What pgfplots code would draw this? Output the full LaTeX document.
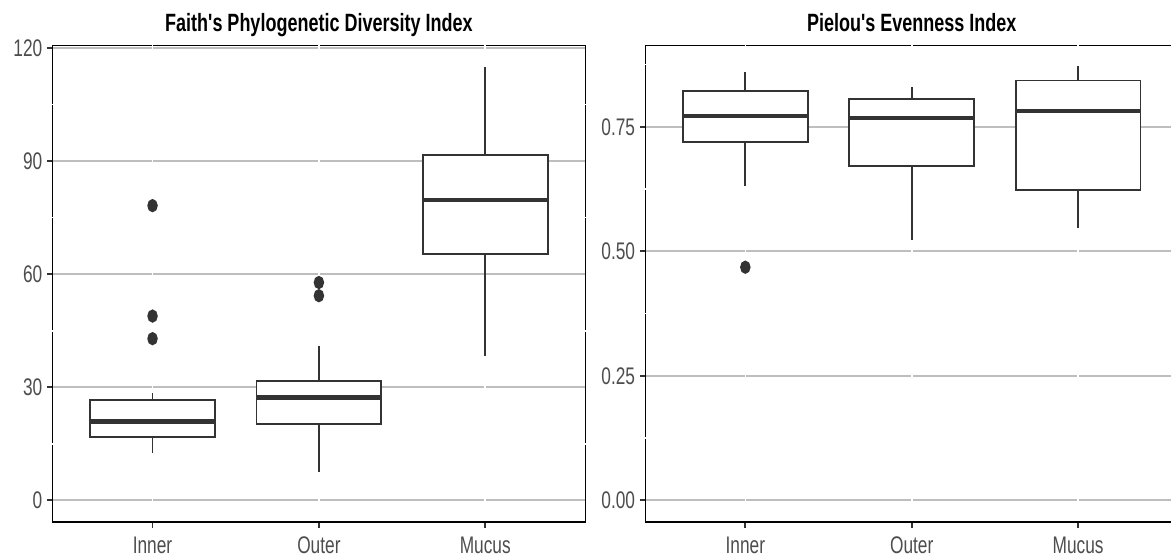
\documentclass[border=0pt]{standalone}
\usepackage{fontspec}
\setmainfont{Liberation Sans}[FakeStretch=0.72, Ligatures=TeXOff]
\usepackage{pgfplots}
\pgfplotsset{compat=1.18}
\usepgfplotslibrary{statistics}
\definecolor{g20}{HTML}{333333}
\definecolor{g30}{HTML}{4D4D4D}
\definecolor{gridc}{HTML}{BEBEBE}
\pgfplotsset{
  myaxis/.style={
    scale only axis, width=266.2pt, height=238.35pt,
    anchor=south west, clip=false,
    xmin=0.4, xmax=3.6,
    axis line style={black, line width=0.55pt},
    xtick={1,2,3}, xticklabels={Inner,Outer,Mucus},
    tick pos=left, tick align=outside, major tick length=2.8pt,
    minor tick num=0,
    tick style={g20, line width=0.9pt},
    ymajorgrids, grid style={gridc, line width=0.85pt},
    /pgf/number format/assume math mode=true,
    ticklabel style={font=\fontsize{12}{14}\selectfont, text=g30},
    xticklabel style={text height=8.8pt, text depth=0pt, yshift=-0.7pt},
    yticklabel style={inner sep=2.2pt},
    title style={font=\bfseries\fontsize{12.5}{15}\selectfont, text=black, at={(0.5,1)}, anchor=base, yshift=0.8pt},
    boxplot/draw direction=y,
    boxplot/box extend=0.75,
    boxplot/whisker extend=0,
    boxplot/every median/.style={line width=2.1pt},
  },
  bx/.style={draw=g20, fill=white, line width=0.9pt, solid,
    mark=*, mark size=2.85pt, mark options={fill=g20, draw=none, xscale=0.76}},
  wl/.style={white, line width=0.8pt, line cap=rect, forget plot},
}
\begin{document}
\begin{tikzpicture}
\begin{axis}[myaxis, at={(26.35pt,17pt)},
  title={Faith's Phylogenetic Diversity Index},
  ymin=-5.75, ymax=120.75, ytick={0,30,60,90,120}]
\addplot[wl] coordinates {(1,-5.75) (1,120.75)};
\addplot[wl] coordinates {(2,-5.75) (2,120.75)};
\addplot[wl] coordinates {(3,-5.75) (3,120.75)};
\addplot[wl] coordinates {(0.4,15) (3.6,15)};
\addplot[wl] coordinates {(0.4,45) (3.6,45)};
\addplot[wl] coordinates {(0.4,75) (3.6,75)};
\addplot[wl] coordinates {(0.4,105) (3.6,105)};
\addplot[bx, boxplot prepared={draw position=1, median=20.9, upper quartile=26.6, lower quartile=16.8, upper whisker=28.4, lower whisker=12.5}]
  coordinates {(1,78.2) (1,48.9) (1,42.9)};
\addplot[bx, boxplot prepared={draw position=2, median=27.3, upper quartile=31.6, lower quartile=20.2, upper whisker=41.0, lower whisker=7.4}]
  coordinates {(2,57.8) (2,54.3)};
\addplot[bx, boxplot prepared={draw position=3, median=79.7, upper quartile=91.7, lower quartile=65.4, upper whisker=115.0, lower whisker=38.4}]
  coordinates {};
\addplot[black, line width=0.9pt, forget plot] coordinates {(0.4,-5.75) (3.6,-5.75)};
\end{axis}
\begin{axis}[myaxis, at={(322.75pt,17pt)},
  title={Pielou's Evenness Index},
  ymin=-0.0435, ymax=0.9135, ytick={0,0.25,0.5,0.75},
  yticklabel style={/pgf/number format/.cd, fixed, fixed zerofill, precision=2}]
\addplot[wl] coordinates {(1,-0.0435) (1,0.9135)};
\addplot[wl] coordinates {(2,-0.0435) (2,0.9135)};
\addplot[wl] coordinates {(3,-0.0435) (3,0.9135)};
\addplot[wl] coordinates {(0.4,0.125) (3.6,0.125)};
\addplot[wl] coordinates {(0.4,0.375) (3.6,0.375)};
\addplot[wl] coordinates {(0.4,0.625) (3.6,0.625)};
\addplot[wl] coordinates {(0.4,0.875) (3.6,0.875)};
\addplot[bx, boxplot prepared={draw position=1, median=0.772, upper quartile=0.822, lower quartile=0.720, upper whisker=0.860, lower whisker=0.631}]
  coordinates {(1,0.468)};
\addplot[bx, boxplot prepared={draw position=2, median=0.767, upper quartile=0.806, lower quartile=0.671, upper whisker=0.830, lower whisker=0.522}]
  coordinates {};
\addplot[bx, boxplot prepared={draw position=3, median=0.782, upper quartile=0.843, lower quartile=0.623, upper whisker=0.871, lower whisker=0.546}]
  coordinates {};
\addplot[black, line width=0.9pt, forget plot] coordinates {(0.4,-0.0435) (3.6,-0.0435)};
\end{axis}
\pgfresetboundingbox
\useasboundingbox (0,0) rectangle (585.5pt,278pt);
\end{tikzpicture}
\end{document}
